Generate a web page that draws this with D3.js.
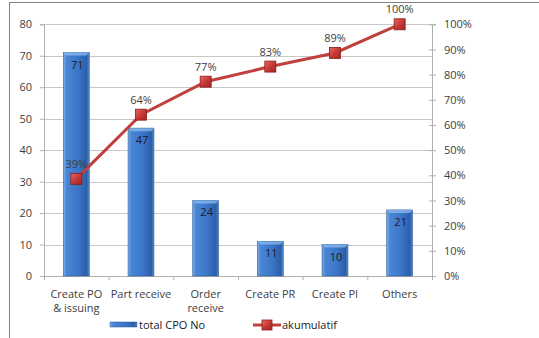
<!DOCTYPE html>
<html><head><meta charset="utf-8">
<script src="https://cdn.jsdelivr.net/npm/d3@7"></script>
<style>body{margin:0;background:#fff}svg{display:block}text{font-family:"Open Sans",sans-serif}</style>
</head><body>
<svg id="c" width="539" height="338"></svg>
<script>
const categories = [["Create PO","& issuing"],["Part receive"],["Order","receive"],["Create PR"],["Create PI"],["Others"]];
const counts = [71, 47, 24, 11, 10, 21];
const cumulative = [38.6, 64.1, 77.2, 83.2, 88.6, 100];
const cumLabels = ["39%","64%","77%","83%","89%","100%"];
const leftTicks = [0,10,20,30,40,50,60,70,80];
const rightTicks = [0,10,20,30,40,50,60,70,80,90,100];
const seriesNames = ["total CPO No","akumulatif"];

const svg = d3.select("#c");
const defs = svg.append("defs");
const g1 = defs.append("linearGradient").attr("id","bar").attr("x1",0).attr("x2",1).attr("y1",0).attr("y2",0);
[[0,"#7eaee6"],[0.12,"#4a86d6"],[0.6,"#3a74c6"],[0.9,"#2b5ea8"],[1,"#5a8ccc"]].forEach(s=>g1.append("stop").attr("offset",s[0]).attr("stop-color",s[1]));
const g2 = defs.append("linearGradient").attr("id","mk").attr("x1",0).attr("x2",1).attr("y1",0).attr("y2",1);
[[0,"#e86a66"],[0.5,"#c63a36"],[1,"#a52420"]].forEach(s=>g2.append("stop").attr("offset",s[0]).attr("stop-color",s[1]));

// frame
svg.append("rect").attr("x",9.5).attr("y",2.5).attr("width",540).attr("height",340).attr("fill","none").attr("stroke","#808080");

const L=44, R=432, T=24.3, B=276;
const x = d3.scaleBand().domain(d3.range(categories.length)).range([L,R]).padding(0.6).paddingOuter(0.3);
const y = d3.scaleLinear().domain([0,80]).range([B,T]);
const y2 = d3.scaleLinear().domain([0,100]).range([B,T]);

// gridlines
svg.append("g").selectAll("line").data(leftTicks.filter(d=>d>0)).join("line")
  .attr("x1",L).attr("x2",R).attr("y1",d=>Math.round(y(d))+0.5).attr("y2",d=>Math.round(y(d))+0.5)
  .attr("stroke","#c8c8c8");

// left axis
const la = svg.append("g").attr("transform",`translate(${L},0)`).call(d3.axisLeft(y).tickValues(leftTicks).tickSize(4).tickPadding(8));
la.select(".domain").attr("stroke","#b0b0b0");
la.selectAll("line").attr("stroke","#b0b0b0");
la.selectAll("text").attr("fill","#404040").style("font-size","11px");

// right axis
const ra = svg.append("g").attr("transform",`translate(${R},0)`).call(d3.axisRight(y2).tickValues(rightTicks).tickFormat(d=>d+"%").tickSize(4).tickPadding(8));
ra.select(".domain").attr("stroke","#b0b0b0");
ra.selectAll("line").attr("stroke","#b0b0b0").attr("x1",-3);
ra.selectAll("text").attr("fill","#404040").style("font-size","11px");

// bottom axis
const xb = d3.scaleLinear().domain([0,categories.length]).range([L,R]);
const ba = svg.append("g").attr("transform",`translate(0,${B})`).call(d3.axisBottom(xb).ticks(6).tickValues(d3.range(categories.length+1)).tickSize(4).tickFormat(""));
ba.select(".domain").attr("stroke","#b0b0b0");
ba.selectAll("line").attr("stroke","#b0b0b0");

// category labels
const cx = i => x(i)+x.bandwidth()/2;
svg.append("g").selectAll("text").data(categories).join("text")
  .attr("x",(d,i)=>cx(i)).attr("y",298).attr("text-anchor","middle").attr("fill","#404040").style("font-size","11px")
  .each(function(d){ d3.select(this).selectAll("tspan").data(d).join("tspan").attr("x",d3.select(this).attr("x")).attr("dy",(t,j)=>j?14:0).text(t=>t); });

// bars
const bars = svg.append("g");
bars.selectAll("rect").data(counts).join("rect")
  .attr("x",(d,i)=>x(i)).attr("width",x.bandwidth()).attr("y",d=>y(d)).attr("height",d=>B-y(d))
  .attr("fill","url(#bar)").attr("stroke","#2d5a96").attr("stroke-width",0.6);
bars.selectAll("path").data(counts).join("path")
  .attr("d",(d,i)=>`M${x(i)},${y(d)} L${x(i)+x.bandwidth()},${y(d)} L${x(i)+x.bandwidth()-3},${y(d)+3} L${x(i)+3},${y(d)+3}Z`)
  .attr("fill","#8ab8ee").attr("opacity",0.8);
svg.append("g").selectAll("text").data(counts).join("text")
  .attr("x",(d,i)=>cx(i)+1).attr("y",d=>y(d)+16).attr("text-anchor","middle").attr("fill","#1a1a2a").style("font-size","11px").text(d=>d);

// line
svg.append("path").datum(cumulative).attr("fill","none").attr("stroke","#c0403c").attr("stroke-width",3)
  .attr("d",d3.line().x((d,i)=>cx(i)).y(d=>y2(d)));
svg.append("g").selectAll("rect").data(cumulative).join("rect")
  .attr("x",(d,i)=>cx(i)-5.5).attr("y",d=>y2(d)-5.5).attr("width",11).attr("height",11)
  .attr("fill","url(#mk)").attr("stroke","#8a1c18").attr("stroke-width",0.8);
svg.append("g").selectAll("text").data(cumulative).join("text")
  .attr("x",(d,i)=>cx(i)).attr("y",d=>y2(d)-11).attr("text-anchor","middle").attr("fill","#404040").style("font-size","11px")
  .text((d,i)=>cumLabels[i]);

// legend
const lg = svg.append("g");
lg.append("rect").attr("x",110).attr("y",322).attr("width",27).attr("height",5).attr("fill","url(#bar)").attr("stroke","#2d5a96").attr("stroke-width",0.5);
lg.append("text").attr("x",139).attr("y",329).attr("fill","#202020").style("font-size","11px").text(seriesNames[0]);
lg.append("line").attr("x1",253).attr("x2",281).attr("y1",325).attr("y2",325).attr("stroke","#c0403c").attr("stroke-width",3);
lg.append("rect").attr("x",262).attr("y",320).attr("width",10).attr("height",10).attr("fill","url(#mk)").attr("stroke","#8a1c18").attr("stroke-width",0.8);
lg.append("text").attr("x",282).attr("y",329).attr("fill","#202020").style("font-size","11px").text(seriesNames[1]);
</script>
</body></html>
